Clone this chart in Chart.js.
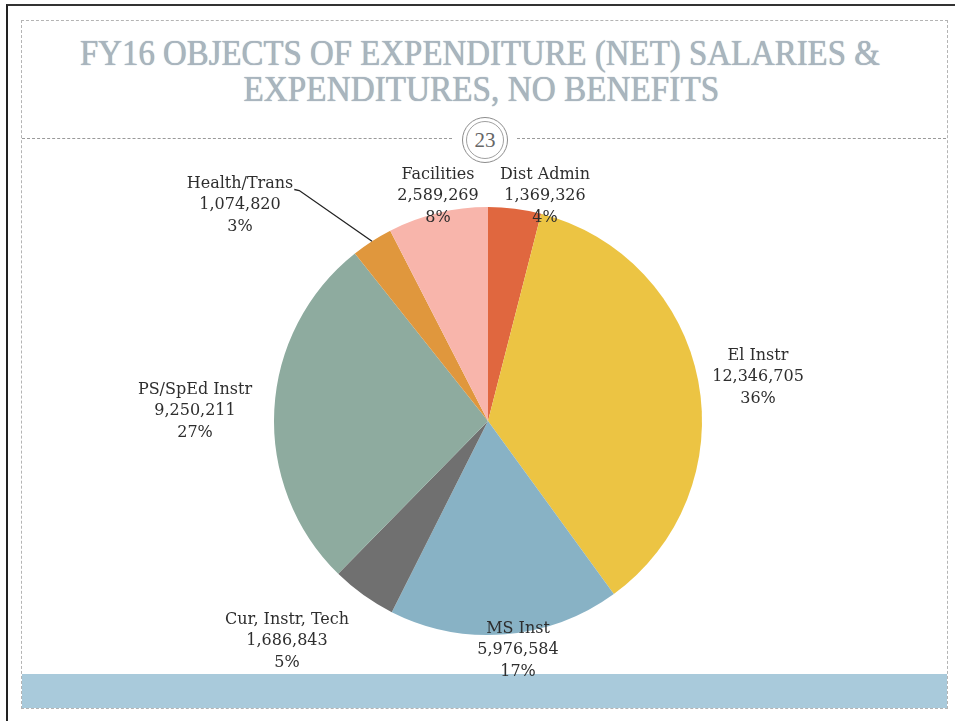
<!DOCTYPE html>
<html lang="en">
<head>
    <meta charset="UTF-8">
    <title>FY16 Objects of Expenditure</title>
    <script src="https://cdn.jsdelivr.net/npm/chart.js"></script>
    <style>
        html, body { margin: 0; padding: 0; background: #fff; }
        .page { position: relative; width: 955px; height: 721px; overflow: hidden; }
        .frame { position: absolute; left: 6px; top: 4px; width: 960px; height: 730px;
                 border-left: 2px solid #222; border-top: 2px solid #333; }
        .slide { position: absolute; left: 21px; top: 20px; width: 925px; height: 687px;
                 border: 1px dashed #b4b4b4; }
        .title { position: absolute; left: 0; width: 955px; text-align: center;
                 font-family: "Liberation Serif", serif; font-size: 35px; line-height: 35px;
                 color: #a9b5be; text-shadow: 0 0 1px #8c9ba7; white-space: nowrap; }
        .title span { display: inline-block; transform-origin: center; }
        .rule { position: absolute; top: 138px; height: 0; border-top: 1px dashed #9a9a9a; }
        .num { position: absolute; left: 462px; top: 117px; width: 44px; height: 44px;
               border: 1px solid #8c8c8c; border-radius: 50%; }
        .num div { position: absolute; left: 3px; top: 3px; width: 36px; height: 36px;
                   border: 1px solid #a0a0a0; border-radius: 50%; text-align: center;
                   font-family: "Liberation Serif", serif; font-size: 21px; line-height: 36px; color: #666; }
        .band { position: absolute; left: 22px; top: 674px; width: 925px; height: 34px; background: #a9cadb; }
        canvas { position: absolute; left: 0; top: 0; }
    </style>
</head>
<body>
<div class="page">
    <div class="frame"></div>
    <div class="slide"></div>
    <div class="title" style="top:36px"><span id="t1">FY16 OBJECTS OF EXPENDITURE (NET) SALARIES &amp;</span></div>
    <div class="title" style="top:72px"><span id="t2">EXPENDITURES, NO BENEFITS</span></div>
    <div class="rule" style="left:22px; width:430px"></div>
    <div class="rule" style="left:517px; width:429px"></div>
    <div class="num"><div>23</div></div>
    <div class="band"></div>
    <canvas id="pie" width="955" height="721"></canvas>
</div>

<script>
    // slices, clockwise from 12 o'clock
    const categories = ['Dist Admin', 'El Instr', 'MS Inst', 'Cur, Instr, Tech', 'PS/SpEd Instr', 'Health/Trans', 'Facilities'];
    const amounts = [1369326, 12346705, 5976584, 1686843, 9250211, 1074820, 2589269];
    const sliceColors = ['#e0673f', '#ecc443', '#88b2c5', '#707070', '#8eab9f', '#e0973d', '#f8b5ab'];

    // label block centre (middle line), relative to pie centre
    const labelSpots = [[57, -225], [270, -44], [30, 229], [-201, 220], [-293, -10], [-248, -216], [-50, -225]];
    const leaderFor = 5; // Health/Trans gets a leader line

    // squeeze the title lines to the slide's narrow serif
    function fitTitle(id, width) {
        const el = document.getElementById(id);
        el.style.transform = 'scaleX(' + (width / el.offsetWidth) + ')';
    }
    fitTitle('t1', 800);
    fitTitle('t2', 476);
    document.getElementById('t1').parentNode.style.left = '2px';
    document.getElementById('t2').parentNode.style.left = '4px';

    const fmt = n => n.toLocaleString('en-US');
    const total = amounts.reduce((a, b) => a + b, 0);

    const sliceLabels = {
        id: 'sliceLabels',
        afterDatasetsDraw(chart) {
            const ctx = chart.ctx;
            const arcs = chart.getDatasetMeta(0).data;
            ctx.save();
            ctx.font = '16px "DejaVu Serif", serif';
            ctx.fillStyle = '#2e2e2e';
            ctx.textAlign = 'center';
            ctx.textBaseline = 'middle';
            arcs.forEach((arc, i) => {
                const cx = arc.x + labelSpots[i][0];
                const cy = arc.y + labelSpots[i][1];
                const lines = [categories[i], fmt(amounts[i]), Math.round(amounts[i] / total * 100) + '%'];
                lines.forEach((txt, k) => ctx.fillText(txt, cx, cy + (k - 1) * 21.5));

                if (i === leaderFor) {
                    const w = ctx.measureText(lines[0]).width;
                    const mid = (arc.startAngle + arc.endAngle) / 2;
                    const px = arc.x + Math.cos(mid) * arc.outerRadius;
                    const py = arc.y + Math.sin(mid) * arc.outerRadius;
                    const sx = cx + w / 2 + 1;
                    const sy = cy - 21.5 + 6;
                    ctx.strokeStyle = '#222';
                    ctx.lineWidth = 1.3;
                    ctx.beginPath();
                    ctx.moveTo(sx, sy);
                    ctx.lineTo(sx + 5, sy + 1);
                    ctx.lineTo(px, py);
                    ctx.stroke();
                }
            });
            ctx.restore();
        }
    };

    new Chart(document.getElementById('pie'), {
        type: 'pie',
        data: {
            labels: categories,
            datasets: [{
                data: amounts,
                backgroundColor: sliceColors,
                borderWidth: 0
            }]
        },
        options: {
            responsive: false,
            animation: false,
            layout: { padding: { top: 207, bottom: 86, left: 274, right: 253 } },
            plugins: {
                legend: { display: false },
                tooltip: { enabled: false }
            }
        },
        plugins: [sliceLabels]
    });
</script>
</body>
</html>
